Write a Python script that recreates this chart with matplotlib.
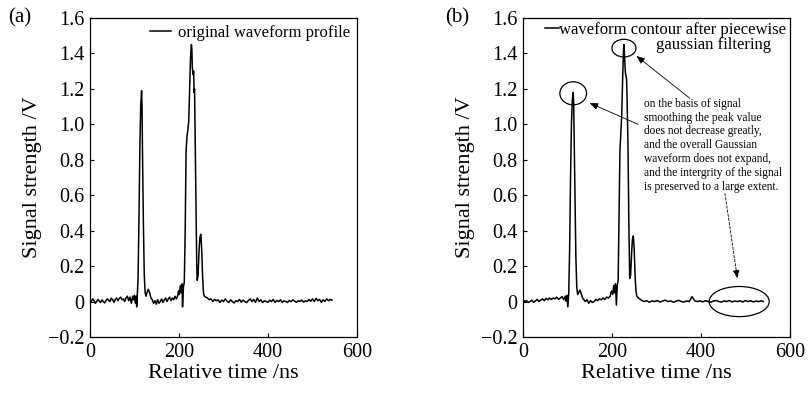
import numpy as np
import matplotlib.pyplot as plt
from matplotlib.patches import Ellipse
from matplotlib.ticker import FuncFormatter

plt.rcParams["font.family"] = ["Liberation Serif", "DejaVu Serif"]

# ---- (a) original waveform (segment by segment) ----
t_a = (list(range(0, 97, 3))
       + [98, 100, 102, 104, 105, 106, 108, 110, 112, 114, 116, 117, 118, 120,
          122, 124, 126, 128, 131, 134, 137, 140]
       + list(range(143, 198, 3))
       + [199, 201, 203, 205, 207, 208, 210, 212, 214, 216, 218, 220, 222, 224,
          226, 228, 229, 230, 231, 232, 233, 234, 235, 236, 238, 240, 241, 243,
          245, 247, 249, 251, 253, 255, 257, 260]
       + list(range(264, 545, 4)))
v_a = ([0.01, 0.0, 0.015, 0.005, -0.01, 0.0, 0.012, 0.002, -0.005, 0.01,
        0.0, -0.008, 0.005, 0.015, 0.008, 0.0, 0.02, 0.01, -0.005, 0.012,
        0.02, 0.005, 0.018, 0.025, 0.01, 0.015, 0.0, 0.02, 0.03, 0.005,
        0.025, -0.01, 0.03]
       + [0.01, 0.035, -0.01, 0.03, -0.03, 0.02, 0.12, 0.45, 0.85, 1.1, 1.19,
          1.1, 0.85, 0.45, 0.15, 0.05, 0.03, 0.05, 0.07, 0.05, 0.02, 0.01]
       + [-0.01, 0.005, -0.015, 0.01, -0.01, 0.0, 0.015, -0.005, 0.01, 0.02,
          0.0, 0.015, 0.025, 0.005, 0.02, 0.01, 0.03, 0.015, 0.03]
       + [0.06, 0.04, 0.09, 0.05, 0.1, -0.03, 0.08, 0.11, 0.4, 0.85, 0.93,
          0.97, 1.02, 1.2, 1.38, 1.45, 1.42, 1.32, 1.3, 1.28, 1.3, 1.18, 1.2,
          1.0, 0.6, 0.2, 0.12, 0.15, 0.28, 0.36, 0.38, 0.3, 0.15, 0.05, 0.03,
          0.025]
       + [0.02, 0.01, 0.015, 0.0, 0.012, 0.005, 0.01, -0.005, 0.008, 0.0,
          0.015, 0.002, -0.005, 0.01, 0.0, -0.008, 0.005, 0.0, 0.012, -0.004,
          0.008, 0.0, -0.006, 0.006, 0.015, 0.0, 0.012, -0.004, 0.02, 0.0,
          0.01, -0.006, 0.004, 0.0, -0.004, 0.008, 0.0, 0.012, -0.005, 0.006,
          0.0, 0.01, -0.004, 0.004, 0.0, -0.005, 0.006, 0.0, 0.01, 0.002,
          -0.004, 0.005, 0.0, 0.008, -0.003, 0.004, 0.0, 0.012, 0.002, 0.015,
          0.0, 0.018, 0.005, 0.012, -0.004, 0.01, 0.0, 0.015, 0.005, 0.012,
          0.008])

# ---- (b) after piecewise gaussian filtering ----
t_b = (list(range(0, 93, 4))
       + [95, 97, 99, 101, 103, 105, 107, 109, 111, 113, 114, 115, 117, 119,
          121, 123, 125, 128, 131, 134, 137, 140]
       + list(range(144, 197, 4))
       + [199, 202, 204, 206, 208, 210, 212, 214, 216, 218, 220, 222, 224, 226,
          227, 228, 230, 231, 232, 233, 234, 236, 238, 240, 242, 244, 246, 248,
          250, 252, 254, 256, 260]
       + list(range(266, 537, 6)) + [540])
v_b = ([0.01, 0.0, 0.005, -0.005, 0.0, 0.008, -0.004, 0.003, 0.012, 0.0,
        0.008, 0.015, 0.005, 0.018, 0.01, 0.02, 0.012, 0.02, 0.015, 0.025,
        0.012, 0.02, 0.028, 0.01]
       + [0.03, 0.0, 0.035, -0.03, 0.05, 0.3, 0.7, 1.0, 1.14, 1.18, 1.12, 0.95,
          0.6, 0.25, 0.08, 0.04, 0.05, 0.065, 0.045, 0.02, 0.01, 0.0]
       + [0.01, -0.01, 0.005, -0.005, 0.0, 0.012, 0.005, 0.015, 0.01, 0.02,
          0.012, 0.025, 0.02, 0.03]
       + [0.06, 0.04, 0.09, 0.05, 0.1, -0.02, 0.09, 0.12, 0.5, 0.85, 0.95,
          1.05, 1.25, 1.42, 1.45, 1.4, 1.3, 1.28, 1.27, 1.25, 1.15, 0.9, 0.45,
          0.13, 0.15, 0.26, 0.35, 0.37, 0.3, 0.15, 0.06, 0.03, 0.02]
       + [0.008, 0.0, 0.005, -0.004, 0.004, 0.0, 0.006, -0.003, 0.003, 0.008,
          0.0, 0.004, -0.004, 0.002, 0.007, 0.0, -0.003, 0.004, 0.0, 0.028,
          0.004, 0.0, 0.004, -0.002, 0.005, 0.0, -0.004, 0.003, 0.006, 0.0,
          -0.003, 0.004, 0.0, 0.006, -0.002, 0.003, 0.0, 0.005, -0.003, 0.006,
          0.0, 0.004, -0.002, 0.003, 0.0, 0.004, 0.0])

note = ("on the basis of signal\nsmoothing the peak value\n"
        "does not decrease greatly,\nand the overall Gaussian\n"
        "waveform does not expand,\nand the intergrity of the signal\n"
        "is preserved to a large extent.")


def fmt_y(v, pos):
    if abs(v) < 1e-9:
        return "0"
    return f"{v:.1f}".replace("-", "\u2212")


def style(ax):
    ax.set_xlim(0, 600)
    ax.set_ylim(-0.2, 1.6)
    ax.set_xticks([0, 200, 400, 600])
    ax.set_yticks(np.arange(-0.2, 1.61, 0.2))
    ax.yaxis.set_major_formatter(FuncFormatter(fmt_y))
    ax.tick_params(direction="in", length=3, width=0.8, labelsize=14.5, pad=4)
    ax.set_xlabel("Relative time /ns", fontsize=16, labelpad=2)
    ax.set_ylabel("Signal strength /V", fontsize=16, labelpad=4)
    for s in ax.spines.values():
        s.set_linewidth(0.9)


fig = plt.figure(figsize=(8.12, 3.93), dpi=100)
ax1 = fig.add_axes([0.1108, 0.1425, 0.3288, 0.8117])
ax2 = fig.add_axes([0.644, 0.1425, 0.3288, 0.8117])

ax1.plot(t_a, v_a, color="black", lw=1.1, label="original waveform profile")
style(ax1)
ax1.legend(loc="upper right", frameon=False, fontsize=12, handlelength=1.3,
           handletextpad=0.4, borderaxespad=0.2, borderpad=0.2)

ax2.plot(t_b, v_b, color="black", lw=1.1, label="waveform contour after piecewise")
style(ax2)
ax2.legend(loc="upper right", frameon=False, fontsize=12, handlelength=0.8,
           handletextpad=0.0, borderaxespad=0.05, borderpad=0.2)
ax2.text(0.93, 0.915, "gaussian filtering", transform=ax2.transAxes,
         ha="right", va="center", fontsize=12)

for (cx, cy, w, h) in [(113, 1.175, 60, 0.13), (227, 1.43, 54, 0.10),
                       (486, 0.0, 135, 0.17)]:
    ax2.add_patch(Ellipse((cx, cy), w, h, fill=False, lw=0.9, color="black"))

ax2.text(272, 1.15, note, fontsize=8.3, va="top", ha="left", linespacing=1.2)
arrow = dict(arrowstyle="-|>,head_length=0.5,head_width=0.2", lw=0.6,
             color="black", shrinkA=0, shrinkB=0)
ax2.annotate("", xy=(150, 1.12), xytext=(259, 1.0), arrowprops=arrow)
ax2.annotate("", xy=(255, 1.386), xytext=(375, 1.147), arrowprops=arrow)
ax2.annotate("", xy=(482, 0.13), xytext=(454, 0.61),
             arrowprops=dict(arrow, linestyle=(0, (3, 2))))

fig.text(20 / 812, 1 - 18 / 393, "(a)", fontsize=15, ha="center", va="center")
fig.text(457 / 812, 1 - 18 / 393, "(b)", fontsize=15, ha="center", va="center")

fig.savefig("out.png", dpi=100)
